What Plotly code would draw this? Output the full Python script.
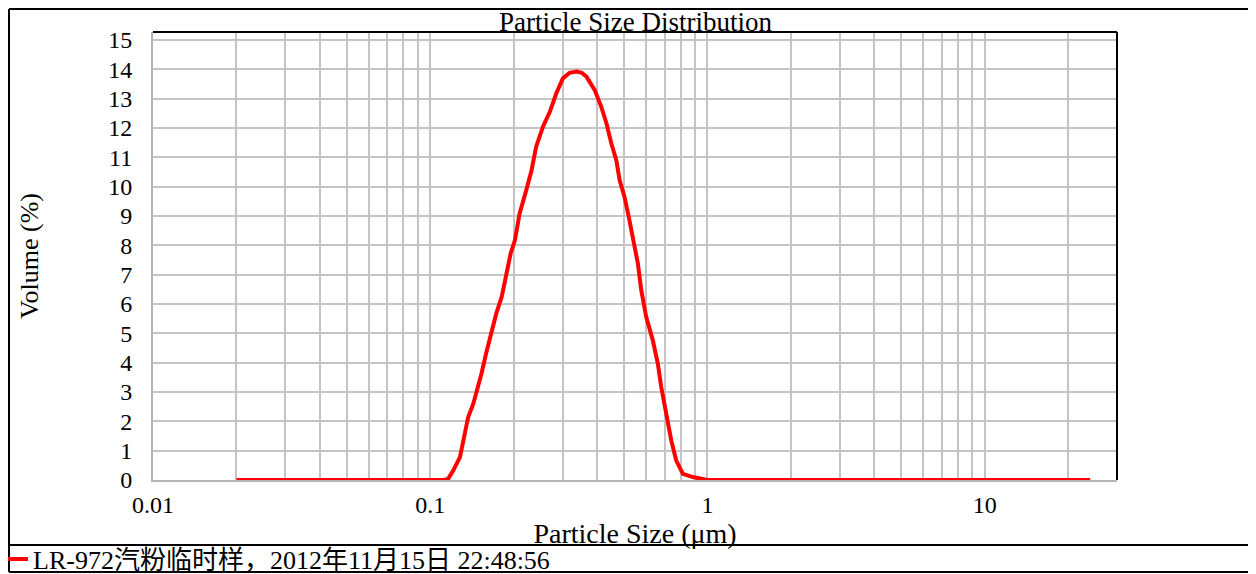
import plotly.graph_objects as go

# ---- data ----
particle_size_um = [0.02, 0.05, 0.1, 0.112, 0.116, 0.121, 0.128, 0.133, 0.137, 0.143,
                    0.149, 0.153, 0.159, 0.166, 0.173, 0.181, 0.188, 0.195, 0.202, 0.210,
                    0.222, 0.232, 0.241, 0.255, 0.270, 0.285, 0.301, 0.318, 0.337, 0.352,
                    0.366, 0.392, 0.414, 0.432, 0.450, 0.469, 0.482, 0.502, 0.520, 0.538,
                    0.561, 0.577, 0.601, 0.635, 0.662, 0.681, 0.710, 0.740, 0.771, 0.815,
                    0.885, 0.962, 1.0, 2.0, 5.0, 10.0, 24.0]
volume_pct = [0, 0, 0, 0, 0.04, 0.32, 0.78, 1.58, 2.14, 2.6,
              3.17, 3.62, 4.31, 4.99, 5.67, 6.24, 7.04, 7.72, 8.17, 9.08,
              9.88, 10.56, 11.36, 12.04, 12.55, 13.18, 13.69, 13.88, 13.92, 13.88,
              13.75, 13.29, 12.72, 12.16, 11.47, 10.9, 10.22, 9.65, 8.97, 8.17,
              7.38, 6.47, 5.56, 4.76, 3.97, 3.17, 2.26, 1.35, 0.67, 0.21,
              0.1, 0.04, 0, 0, 0, 0, 0]

x_tick_vals = [0.01, 0.02, 0.03, 0.04, 0.05, 0.06, 0.07, 0.08, 0.09,
               0.1, 0.2, 0.3, 0.4, 0.5, 0.6, 0.7, 0.8, 0.9,
               1, 2, 3, 4, 5, 6, 7, 8, 9,
               10, 20, 30]
x_tick_text = ["0.01", "", "", "", "", "", "", "", "",
               "0.1", "", "", "", "", "", "", "", "",
               "1", "", "", "", "", "", "", "", "",
               "10", "", ""]
y_tick_vals = list(range(0, 16))

series_name = "LR-972汽粉临时样，2012年11月15日 22:48:56"
chart_title = "Particle Size Distribution"
x_title = "Particle Size (μm)"
y_title = "Volume (%)"

FONT = "Liberation Serif, Noto Sans CJK SC, serif"

fig = go.Figure()
fig.add_trace(go.Scatter(
    x=particle_size_um, y=volume_pct, mode="lines", name=series_name,
    line=dict(color="#ff0000", width=4),
))

W, H = 1256, 574
OFF = 8  # page body margin offset
# plot area in page pixels
PL, PR, PT, PB = 153, 1117, 32, 480
L, R, T, B = PL - OFF, PR - OFF, PT - OFF, PB - OFF
pw, ph = R - L, B - T


def px(page_x):
    return (page_x - OFF - L) / pw


def py(page_y):
    return (B - (page_y - OFF)) / ph


FRAME_L = OFF + 1
shapes = [
    dict(type="line", xref="paper", yref="paper", x0=px(FRAME_L), x1=px(1300), y0=py(OFF + 1), y1=py(OFF + 1),
         line=dict(color="black", width=2)),
    dict(type="line", xref="paper", yref="paper", x0=px(FRAME_L), x1=px(FRAME_L), y0=py(OFF + 1), y1=py(572),
         line=dict(color="black", width=2)),
    dict(type="line", xref="paper", yref="paper", x0=px(FRAME_L), x1=px(1300), y0=py(572), y1=py(572),
         line=dict(color="black", width=2)),
    dict(type="line", xref="paper", yref="paper", x0=px(FRAME_L), x1=px(1300), y0=py(545), y1=py(545),
         line=dict(color="black", width=2)),
    # plot frame top and right in black
    dict(type="line", xref="paper", yref="paper", x0=0, x1=1, y0=1, y1=1,
         line=dict(color="black", width=2)),
    dict(type="line", xref="paper", yref="paper", x0=1, x1=1, y0=0, y1=1,
         line=dict(color="black", width=2)),
]

fig.update_layout(
    width=W, height=H,
    margin=dict(l=L, r=W - R, t=T, b=H - B, autoexpand=False),
    paper_bgcolor="white", plot_bgcolor="white",
    font=dict(family=FONT, color="black", size=22),
    shapes=shapes,
    showlegend=True,
    legend=dict(x=px(-7), y=py(559), xanchor="left", yanchor="middle",
                font=dict(size=26, family=FONT), bgcolor="rgba(0,0,0,0)",
                itemwidth=30, borderwidth=0),
    annotations=[dict(text=chart_title, x=0.5, y=1, xref="paper", yref="paper",
                      xanchor="center", yanchor="bottom", yshift=-7, showarrow=False,
                      font=dict(size=27, family=FONT))],
    xaxis=dict(type="log", range=[-2, 1.4771], tickvals=x_tick_vals, ticktext=x_tick_text,
               showgrid=True, gridcolor="#c4c4c4", gridwidth=1.5,
               showline=True, linecolor="#b4b4b4", linewidth=2,
               ticks="", ticklabelstandoff=2, tickfont=dict(size=24, family=FONT),
               title=dict(text=x_title, font=dict(size=28, family=FONT), standoff=5),
               zeroline=False),
    yaxis=dict(range=[0, 15.27], tickvals=y_tick_vals,
               showgrid=True, gridcolor="#c4c4c4", gridwidth=1.5,
               showline=True, linecolor="#b4b4b4", linewidth=2,
               ticks="", ticklabelstandoff=14, tickfont=dict(size=24, family=FONT),
               title=dict(text=y_title, font=dict(size=26, family=FONT), standoff=62),
               zeroline=False),
)

fig.write_html("out.html")
